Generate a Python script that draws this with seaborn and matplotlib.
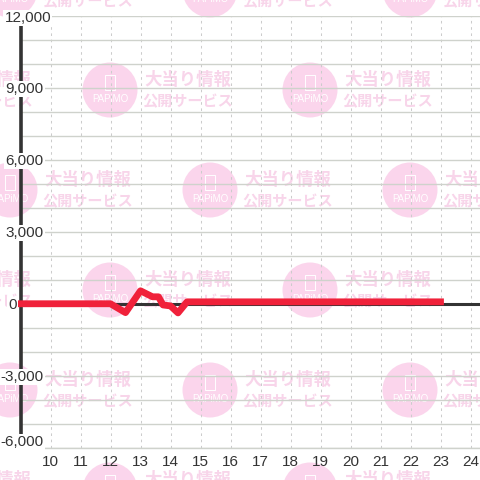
import matplotlib
matplotlib.use("Agg")
import matplotlib.pyplot as plt
import pandas as pd
import seaborn as sns
from matplotlib.patches import Circle, Rectangle

hours = [9, 10, 11, 12, 12.5, 13, 13.4, 13.6, 13.75, 14, 14.25, 14.55, 15, 16, 17, 18, 19, 20, 21, 22, 23]
values = [10, 10, 10, 10, -360, 550, 300, 300, -40, -80, -370, 90, 90, 90, 90, 90, 90, 90, 90, 90, 90]
x_ticks = list(range(10, 25))
y_grid = list(range(-6000, 12001, 1000))
y_labels = [12000, 9000, 6000, 3000, 0, -3000, -6000]
y_label_text = ["12,000", "9,000", "6,000", "3,000", "0", "-3,000", "-6,000"]
y_label_right_px = [51, 43.5, 43.5, 43.5, 16.5, 43.5, 43.5]
y_label_shift_px = [-2, -1, -1, -1, -1, -1, 6]
logo_rows = [(-10, 10), (90, 110), (190, 10), (290, 110), (390, 10), (490, 110)]

sns.set_theme(style="white")
plt.rcParams["font.family"] = ["Liberation Sans", "DejaVu Sans"]
INK = "#333333"
fig = plt.figure(figsize=(4.8, 4.8), dpi=100, facecolor="white")

# watermark layer in pixel coordinates
bg = fig.add_axes([0, 0, 1, 1], zorder=0)
bg.set_xlim(0, 480)
bg.set_ylim(480, 0)
bg.axis("off")
for cy, x0 in logo_rows:
    for k in range(-1, 4):
        cx = x0 + 200 * k
        bg.add_patch(Circle((cx, cy), 27.5, fc="#fbd5ec", ec="none"))
        bg.add_patch(Rectangle((cx - 5, cy - 15), 10, 15, fc="none", ec="white", lw=0.7))
        bg.text(cx, cy + 9.5, "PAPiMO", color="white", fontsize=7, ha="center", va="center")
        bg.text(cx + 78, cy - 10, "大当り情報", color="#f8d5ea", fontsize=12.5, weight="bold",
                ha="center", va="center", family=["Noto Sans CJK JP", "DejaVu Sans"])
        bg.text(cx + 78, cy + 11, "公開サービス", color="#f8d5ea", fontsize=10.9, weight="bold",
                ha="center", va="center", family=["Noto Sans CJK JP", "DejaVu Sans"])

# chart layer
left, right, top, bottom = 20.5, 480, 16, 448
ax = fig.add_axes([left / 480, (480 - bottom) / 480, (right - left) / 480, (bottom - top) / 480], zorder=1)
ax.patch.set_alpha(0)
ax.set_xlim(9, 9 + (right - left) / 30)
ax.set_ylim(-6000, 12000)
ax.set_xticks(x_ticks)
ax.set_yticks(y_grid)
ax.set_yticklabels([])
ax.tick_params(axis="both", length=0)
ax.tick_params(axis="x", labelsize=11, labelcolor=INK, pad=5)
ax.grid(axis="y", color="#cfd2cc", lw=1.0, zorder=1)
ax.grid(axis="x", color="#cccccc", lw=0.75, ls=(0, (2.5, 3.5)), zorder=1)
ax.set_axisbelow(True)
for s in ("top", "right"):
    ax.spines[s].set_visible(False)
ax.spines["bottom"].set_color("#cfd2cc")
ax.spines["bottom"].set_linewidth(1.0)
ax.spines["left"].set_color(INK)
ax.spines["left"].set_linewidth(2.6)
ax.axhline(0, color=INK, lw=2.2, zorder=2)

df = pd.DataFrame({"hour": hours, "value": values})
sns.lineplot(data=df, x="hour", y="value", ax=ax, color="#f0213a", lw=4.9, zorder=3,
             clip_on=False, estimator=None, solid_capstyle="projecting", solid_joinstyle="round")
ax.set_xlabel("")
ax.set_ylabel("")

for val, txt, rpx, dy in zip(y_labels, y_label_text, y_label_right_px, y_label_shift_px):
    ax.annotate(txt, xy=(0, val), xycoords=ax.get_yaxis_transform(),
                xytext=(rpx - left, dy), textcoords="offset pixels",
                ha="right", va="center", fontsize=11, color=INK, zorder=5, annotation_clip=False,
                bbox=dict(fc="white", ec="none", pad=1.0))

fig.savefig("out.png", dpi=100, facecolor="white")
